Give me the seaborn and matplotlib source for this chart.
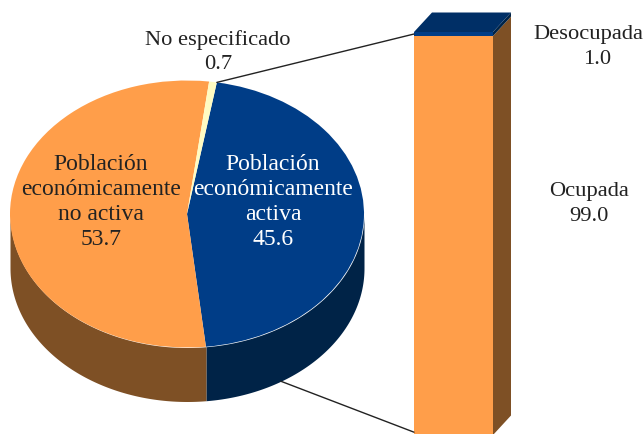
"""Pie of pie: poblacion por condicion de actividad, 3D look."""

import matplotlib

matplotlib.use("Agg")
import matplotlib.pyplot as plt
import numpy as np
import seaborn as sns
from matplotlib.patches import ConnectionPatch, Polygon

W, H = 643, 435

pie_names = ["Población\neconómicamente\nactiva", "Población\neconómicamente\nno activa", "No especificado"]
pie_values = [45.6, 53.7, 0.7]
bar_names = ["Ocupada", "Desocupada"]
bar_values = [99.0, 1.0]

BLUE, CREAM, ORANGE = "#003d87", "#fffbc2", "#ff9e4a"
NAVY, BROWN = "#002347", "#7e5025"
TOP_NAVY = "#002f66"
INK = "#222222"

sns.set_theme(style="white")
plt.rcParams["font.family"] = ["Liberation Serif", "DejaVu Serif"]


def px_axes(fig, left, top, right, bottom):
    return fig.add_axes([left / W, 1 - bottom / H, (right - left) / W, (bottom - top) / H])


fig = plt.figure(figsize=(W / 100, H / 100), dpi=100)

# pie: unit circle squashed by the axes box, side wall hangs below it
depth = 54 / 133.5
pad = 0.02
start = 9.7  # degrees clockwise from 12 o'clock
cx, cy, rx, ry = 187, 215, 177, 133.5
pie_ax = px_axes(fig, cx - rx * (1 + pad), cy - ry * (1 + pad), cx + rx * (1 + pad),
                 cy + ry * (1 + pad) + 54)
pie_ax.pie(pie_values, colors=[BLUE, ORANGE, CREAM], startangle=90 - start, counterclock=False,
           wedgeprops={"linewidth": 0})
pie_ax.set_aspect("auto")
pie_ax.set_xlim(-1 - pad, 1 + pad)
pie_ax.set_ylim(-1 - pad - depth, 1 + pad)

edges = start + np.cumsum([0] + pie_values) * 3.6
for a, b, col in zip(edges[:-1], edges[1:], [NAVY, BROWN, BROWN]):
    lo, hi = max(a, 90), min(b, 270)
    if lo >= hi:
        continue
    t = np.radians(np.linspace(lo, hi, 120))
    pie_ax.fill_between(np.sin(t), np.cos(t), np.cos(t) - depth, color=col, linewidth=0, zorder=0)

# bar: front face from seaborn, the extruded faces are offset from it
bar_ax = px_axes(fig, 414, 33, 493, 436)
sns.barplot(x=[0], y=[bar_values[0]], color=ORANGE, width=1, saturation=1, ax=bar_ax, linewidth=0,
            native_scale=True)
sns.barplot(x=[0], y=[bar_values[1]], bottom=bar_values[0], color=BLUE, width=1, saturation=1,
            ax=bar_ax, linewidth=0, native_scale=True)
bar_ax.set_xlim(-0.5, 0.5)
bar_ax.set_ylim(0, sum(bar_values))
bar_ax.set_xlabel("")
bar_ax.set_ylabel("")
bar_ax.set_xticks([])
bar_ax.set_yticks([])
sns.despine(ax=bar_ax, left=True, bottom=True)

dx = 18 / 79
dy = 19.5 / 403 * 100
total = sum(bar_values)
split = bar_values[0]
faces = [
    ([(0.5, 0), (0.5 + dx, dy), (0.5 + dx, split + dy), (0.5, split)], BROWN),
    ([(0.5, split), (0.5 + dx, split + dy), (0.5 + dx, total + dy), (0.5, total)], NAVY),
    ([(-0.5, total), (-0.5 + dx, total + dy), (0.5 + dx, total + dy), (0.5, total)], TOP_NAVY),
]
for pts, col in faces:
    bar_ax.add_patch(Polygon(pts, closed=True, facecolor=col, edgecolor="none", clip_on=False))

# leader lines
ang = np.radians(start)
line_top = ConnectionPatch((np.sin(ang), np.cos(ang)), (-0.5, total - 0.5), "data", "data",
                           axesA=pie_ax, axesB=bar_ax, color=INK, linewidth=1, zorder=5)
ang = np.radians(148)
line_low = ConnectionPatch((np.sin(ang), np.cos(ang) - depth), (-0.5, 0.7), "data", "data",
                           axesA=pie_ax, axesB=bar_ax, color=INK, linewidth=1, zorder=5)
fig.add_artist(line_top)
fig.add_artist(line_low)


def label(x, y, s, color=INK, size=16.2, spacing=1.36):
    fig.text(x / W, 1 - y / H, s, color=color, fontsize=size, ha="center", va="center",
             linespacing=spacing, zorder=10)


label(273, 202, f"{pie_names[0]}\n{pie_values[0]}", "white", 17, 1.27)
label(101, 202, f"{pie_names[1]}\n{pie_values[1]}", INK, 17, 1.27)
label(218, 52, f"{pie_names[2]}\n{pie_values[2]}")
label(588, 34, bar_names[1])
label(597, 59, str(bar_values[1]))
label(589, 204, f"{bar_names[0]}\n{bar_values[0]}")

fig.savefig("out.png", dpi=100)
plt.close(fig)
